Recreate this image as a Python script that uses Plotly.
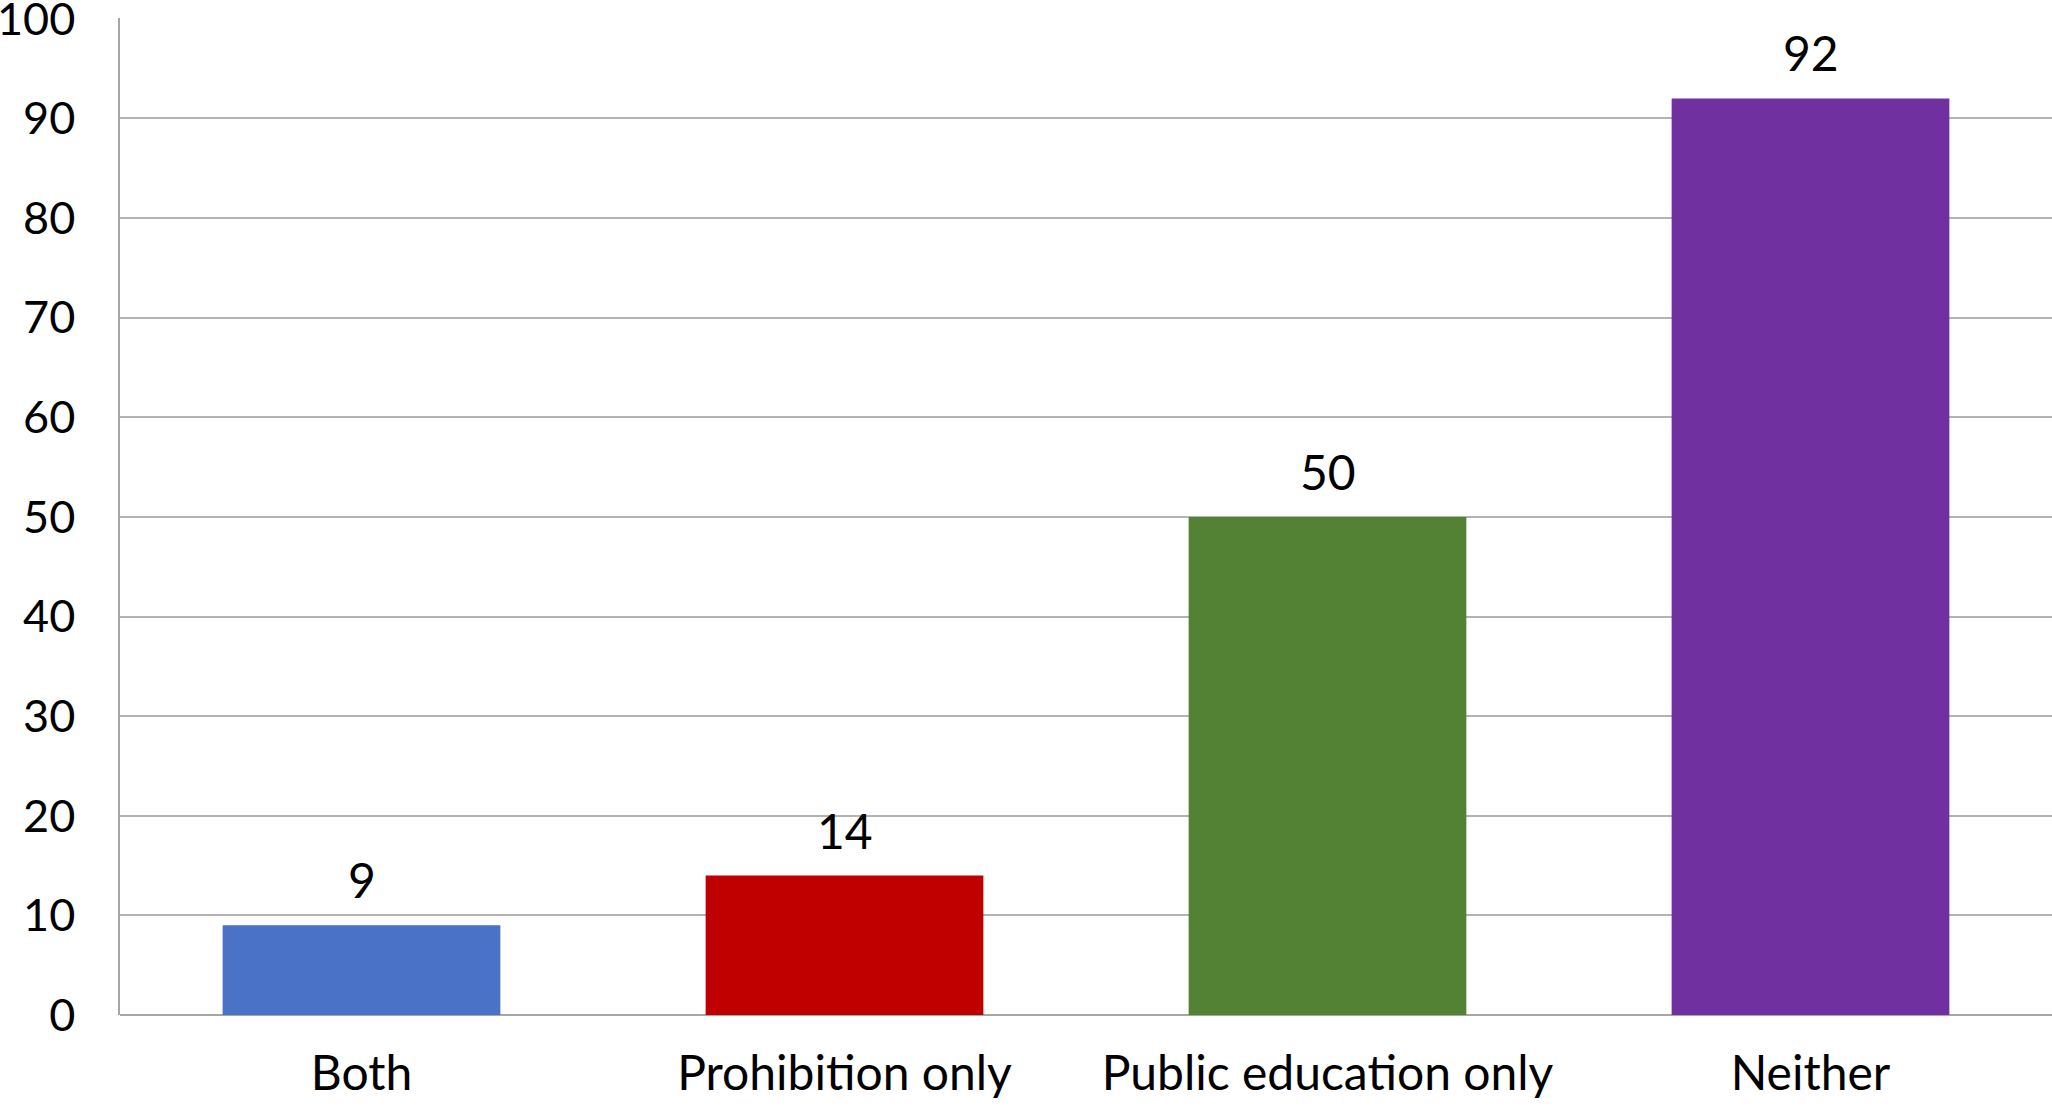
import plotly.graph_objects as go

categories = ["Both", "Prohibition only", "Public education only", "Neither"]
values = [9, 14, 50, 92]
colors = ["#4a72c6", "#C00000", "#548235", "#7030A0"]
y_ticks = [0, 10, 20, 30, 40, 50, 60, 70, 80, 90, 100]

FONT = "Lato"

fig = go.Figure()
fig.add_trace(go.Bar(
    x=categories, y=values,
    marker=dict(color=colors, line=dict(width=0)),
    width=0.575,
    hoverinfo="x+y",
))

for c, v in zip(categories, values):
    fig.add_annotation(x=c, y=v, text=str(v), showarrow=False,
                       yanchor="bottom", yshift=15,
                       font=dict(family=FONT, size=48, color="black"))

fig.update_layout(
    width=2052, height=1106,
    margin=dict(l=120, r=0, t=18, b=91, autoexpand=False),
    paper_bgcolor="white", plot_bgcolor="white",
    showlegend=False,
    font=dict(family=FONT, color="black"),
)
fig.update_xaxes(
    showline=False, showgrid=False, automargin=False,
    tickfont=dict(family=FONT, size=48, color="black"),
    ticklabelstandoff=26,
)
fig.update_yaxes(
    range=[0, 100.08], tickvals=y_ticks, ticktext=[str(t) for t in y_ticks],
    showgrid=True, gridcolor="#b3b3b3", gridwidth=1.5,
    showline=True, linecolor="#a6a6a6", linewidth=1.5,
    zeroline=True, zerolinecolor="#a6a6a6", zerolinewidth=1.5,
    tickfont=dict(family=FONT, size=45, color="black"),
    ticklabelstandoff=34, automargin=False,
    ticklabeloverflow="allow",
)
fig.write_html("out.html")
